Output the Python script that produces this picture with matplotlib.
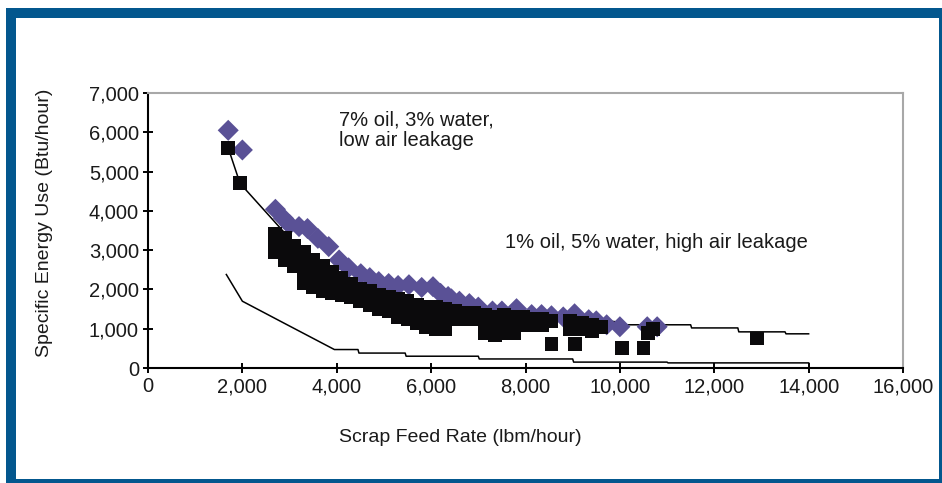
import matplotlib
matplotlib.use("Agg")
import matplotlib.pyplot as plt
from matplotlib.patches import Rectangle
from matplotlib.ticker import FuncFormatter

plt.rcParams['font.family'] = ['Liberation Sans', 'DejaVu Sans']

# ---------------- data ----------------
x_ticks = [0, 2000, 4000, 6000, 8000, 10000, 12000, 14000, 16000]
y_ticks = [0, 1000, 2000, 3000, 4000, 5000, 6000, 7000]

# purple diamonds (7% oil, 3% water, low air leakage)
dia_x = [1700, 2000, 2700, 2870, 3000, 3200, 3380, 3600, 3830, 4050, 4250, 4510, 4700,
         4890, 5100, 5300, 5530, 5800, 6040, 6200, 6360, 6430, 6600, 6810, 7000, 7300,
         7500, 7810, 8130, 8340, 8550, 8800, 9040, 9340, 9500, 9720, 10000, 10580, 10790]
dia_y = [6050, 5550, 4040, 3810, 3650, 3600, 3550, 3300, 3090, 2750, 2550, 2400, 2300,
         2200, 2150, 2100, 2120, 2050, 2070, 1900, 1820, 1760, 1700, 1640, 1550, 1450,
         1450, 1510, 1360, 1360, 1330, 1300, 1380, 1230, 1200, 1100, 1050, 1050, 1050]

# black squares (1% oil, 5% water, high air leakage)
sq_x = [1700, 1950,
        2700, 2700, 2700, 2900, 2900, 2900, 3100, 3100, 3100,
        3300, 3300, 3300, 3300, 3500, 3500, 3500, 3500, 3700, 3700, 3700, 3700,
        3900, 3900, 3900, 3900, 4100, 4100, 4100, 4300, 4300, 4300, 4500, 4500, 4500,
        4700, 4700, 4700, 4900, 4900, 4900, 5100, 5100, 5100, 5300, 5300, 5300,
        5500, 5500, 5500, 5700, 5700, 5700, 5900, 5900, 5900, 6100, 6100, 6100,
        6300, 6300, 6300, 6500, 6500, 6700, 6700, 6900, 6900,
        7150, 7150, 7150, 7350, 7350, 7350, 7550, 7550, 7550, 7750, 7750, 7750,
        7950, 7950, 8150, 8150, 8350, 8350, 8550, 8550, 8950, 8950, 9050,
        9200, 9200, 9400, 9400, 9600, 10050, 10500, 10600, 10700, 12900]
sq_y = [5600, 4700,
        3400, 3150, 2950, 3300, 3050, 2750, 3100, 2850, 2600,
        2950, 2700, 2450, 2170, 2750, 2500, 2250, 2050, 2600, 2350, 2150, 1950,
        2450, 2200, 2000, 1900, 2300, 2050, 1850, 2150, 1950, 1800, 2000, 1800, 1700,
        1950, 1750, 1600, 1850, 1650, 1500, 1800, 1600, 1450, 1750, 1500, 1300,
        1700, 1450, 1250, 1600, 1400, 1150, 1550, 1300, 1050, 1550, 1300, 1000,
        1500, 1250, 1000, 1450, 1250, 1400, 1250, 1400, 1250,
        1350, 1100, 900, 1300, 1100, 850, 1350, 1100, 900, 1300, 1100, 900,
        1300, 1100, 1250, 1100, 1250, 1100, 1200, 600, 1200, 1000, 600,
        1150, 1000, 1100, 950, 1050, 500, 500, 900, 1000, 750]

# upper trend line
up_x = [1700, 1950, 2700, 3000, 3500, 4000, 4500, 5000, 5500, 6000, 6500, 7000,
        7500, 8000, 8700, 8900, 9900, 10000, 11500, 11520, 12500, 12520, 13500, 13520, 14000]
up_y = [5600, 4700, 3700, 3300, 2800, 2400, 2150, 1900, 1700, 1550, 1450, 1380,
        1320, 1290, 1280, 1280, 1180, 1100, 1100, 1020, 1020, 920, 920, 870, 870]

# lower trend line
lo_x = [1660, 2000, 2870, 3950, 4450, 4470, 5450, 5470, 7000, 7020, 9000, 9020,
        11000, 11020, 14000]
lo_y = [2380, 1700, 1150, 470, 470, 380, 380, 300, 300, 230, 230, 150,
        150, 130, 130]

# ---------------- figure ----------------
W, H = 942, 483
fig = plt.figure(figsize=(W / 100, H / 100), dpi=100)
fig.patch.set_facecolor('white')

blue = '#03578e'
def bar(x0, y0, x1, y1):
    fig.patches.append(Rectangle((x0 / W, 1 - y1 / H), (x1 - x0) / W, (y1 - y0) / H,
                                 transform=fig.transFigure, facecolor=blue,
                                 edgecolor='none', zorder=0))
bar(6, 8, 942, 18)     # top
bar(6, 8, 16, 483)     # left
bar(939, 8, 942, 483)  # right
bar(6, 479, 942, 483)  # bottom

ax = fig.add_axes([148 / W, 1 - 368 / H, (903 - 148) / W, (368 - 93) / H])
ax.set_facecolor('white')

ax.plot(up_x, up_y, color='black', lw=1.1, zorder=2)
ax.plot(lo_x, lo_y, color='black', lw=1.1, zorder=2)
ax.scatter(dia_x, dia_y, marker='D', s=115, color='#5a5196', edgecolors='none', zorder=3)
ax.scatter(sq_x, sq_y, marker='s', s=100, color='#0b0a0c', edgecolors='none', zorder=4)

ax.set_xlim(0, 16000)
ax.set_ylim(0, 7000)
ax.set_xticks(x_ticks)
ax.set_yticks(y_ticks)
fmt = FuncFormatter(lambda v, p: f"{int(v):,}")
ax.xaxis.set_major_formatter(fmt)
ax.yaxis.set_major_formatter(fmt)
ax.tick_params(axis='both', direction='inout', length=7, width=1.4, color='black',
               labelsize=14.5, labelcolor='#1a1a1a')
ax.tick_params(axis='x', pad=3)
ax.tick_params(axis='y', pad=3)

for s in ['left', 'bottom']:
    ax.spines[s].set_color('black')
    ax.spines[s].set_linewidth(1.5)
for s in ['top', 'right']:
    ax.spines[s].set_color('#a8a8a8')
    ax.spines[s].set_linewidth(1.5)

ax.set_xlabel('Scrap Feed Rate (lbm/hour)', fontsize=14, color='#1a1a1a')
ax.xaxis.set_label_coords((460 - 148) / 755, -(438 - 368) / 275)
ax.xaxis.label.set_va('center')
ax.set_ylabel('Specific Energy Use (Btu/hour)', fontsize=14, color='#1a1a1a')
ax.yaxis.set_label_coords((45 - 148) / 755, (368 - 223) / 275)
ax.yaxis.label.set_va('center')

ax.text(4040, 6550, '7% oil, 3% water,\nlow air leakage', fontsize=14.5, color='#1a1a1a',
        va='top', ha='left', linespacing=1.1)
ax.text(7555, 3200, '1% oil, 5% water, high air leakage', fontsize=14.5, color='#1a1a1a',
        va='center', ha='left')

fig.savefig('out.png', dpi=100, facecolor='white')
